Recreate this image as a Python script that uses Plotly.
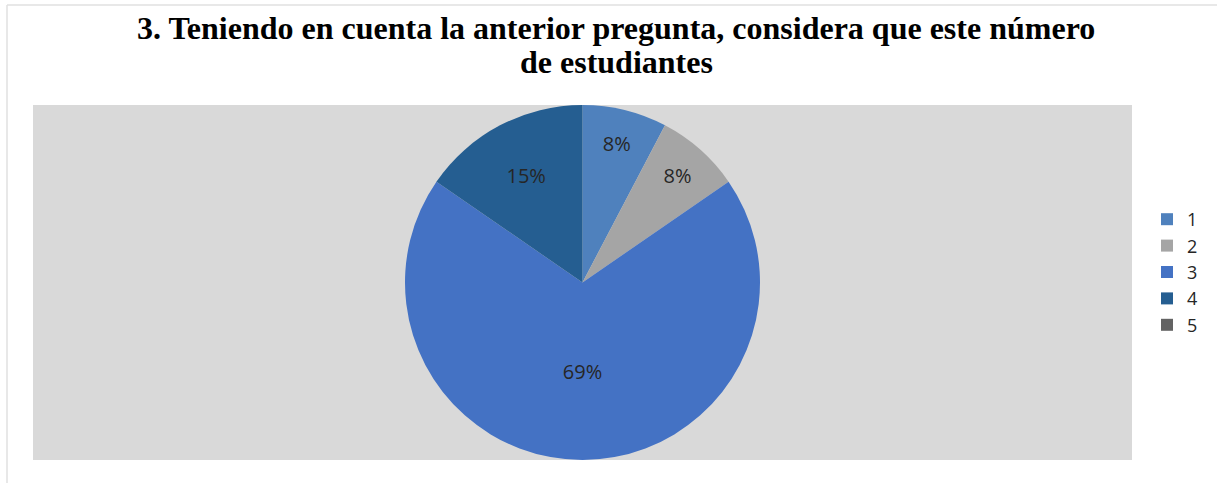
import plotly.graph_objects as go

# data
labels = ["1", "2", "3", "4", "5"]
values = [1, 1, 9, 2, 0]
colors = ["#4f81bd", "#a5a5a5", "#4472c4", "#255e91", "#636363"]
title_lines = [
    "3. Teniendo en cuenta la anterior pregunta, considera que este número",
    "de estudiantes",
]

W, H = 1217, 483
L, R, T, B = 33, 85, 105, 23
PW, PH = W - L - R, H - T - B


def px_x(x):
    return (x - L) / PW


def px_y(y):
    return 1 - (y - T) / PH


fig = go.Figure(go.Pie(
    labels=labels,
    values=values,
    sort=False,
    direction="clockwise",
    rotation=0,
    marker=dict(colors=colors, line=dict(width=0)),
    texttemplate=["%{percent:.0%}"] * 4 + [""],
    textposition="inside",
    insidetextorientation="horizontal",
    insidetextfont=dict(family="Open Sans", size=20, color="#262626"),
))

title_font = dict(family="Liberation Serif", size=32, color="black", weight="bold")
annotations = [
    dict(text=title_lines[0], xref="paper", yref="paper", x=px_x(616), y=px_y(28),
         xanchor="center", yanchor="middle", showarrow=False, font=title_font),
    dict(text=title_lines[1], xref="paper", yref="paper", x=px_x(616), y=px_y(62),
         xanchor="center", yanchor="middle", showarrow=False, font=title_font),
]

fig.update_layout(
    width=W,
    height=H,
    margin=dict(l=L, r=R, t=T, b=B, autoexpand=False),
    paper_bgcolor="white",
    annotations=annotations,
    legend=dict(
        x=px_x(1147), xanchor="left",
        y=px_y(272), yanchor="middle",
        font=dict(family="Open Sans", size=18, color="#262626"),
        tracegroupgap=0,
        bgcolor="rgba(0,0,0,0)",
    ),
    shapes=[
        dict(type="rect", xref="paper", yref="paper", x0=0, x1=1, y0=0, y1=1,
             fillcolor="#d9d9d9", line=dict(width=0), layer="below"),
        dict(type="line", xref="paper", yref="paper",
             x0=px_x(7), x1=px_x(7), y0=px_y(5), y1=px_y(H),
             line=dict(color="#e0e0e0", width=1.5), layer="below"),
        dict(type="line", xref="paper", yref="paper",
             x0=px_x(7), x1=px_x(W), y0=px_y(5), y1=px_y(5),
             line=dict(color="#e0e0e0", width=1.5), layer="below"),
    ],
)

fig.write_html("out.html", config={"displayModeBar": False},
               post_script="document.body.style.margin='0';")
